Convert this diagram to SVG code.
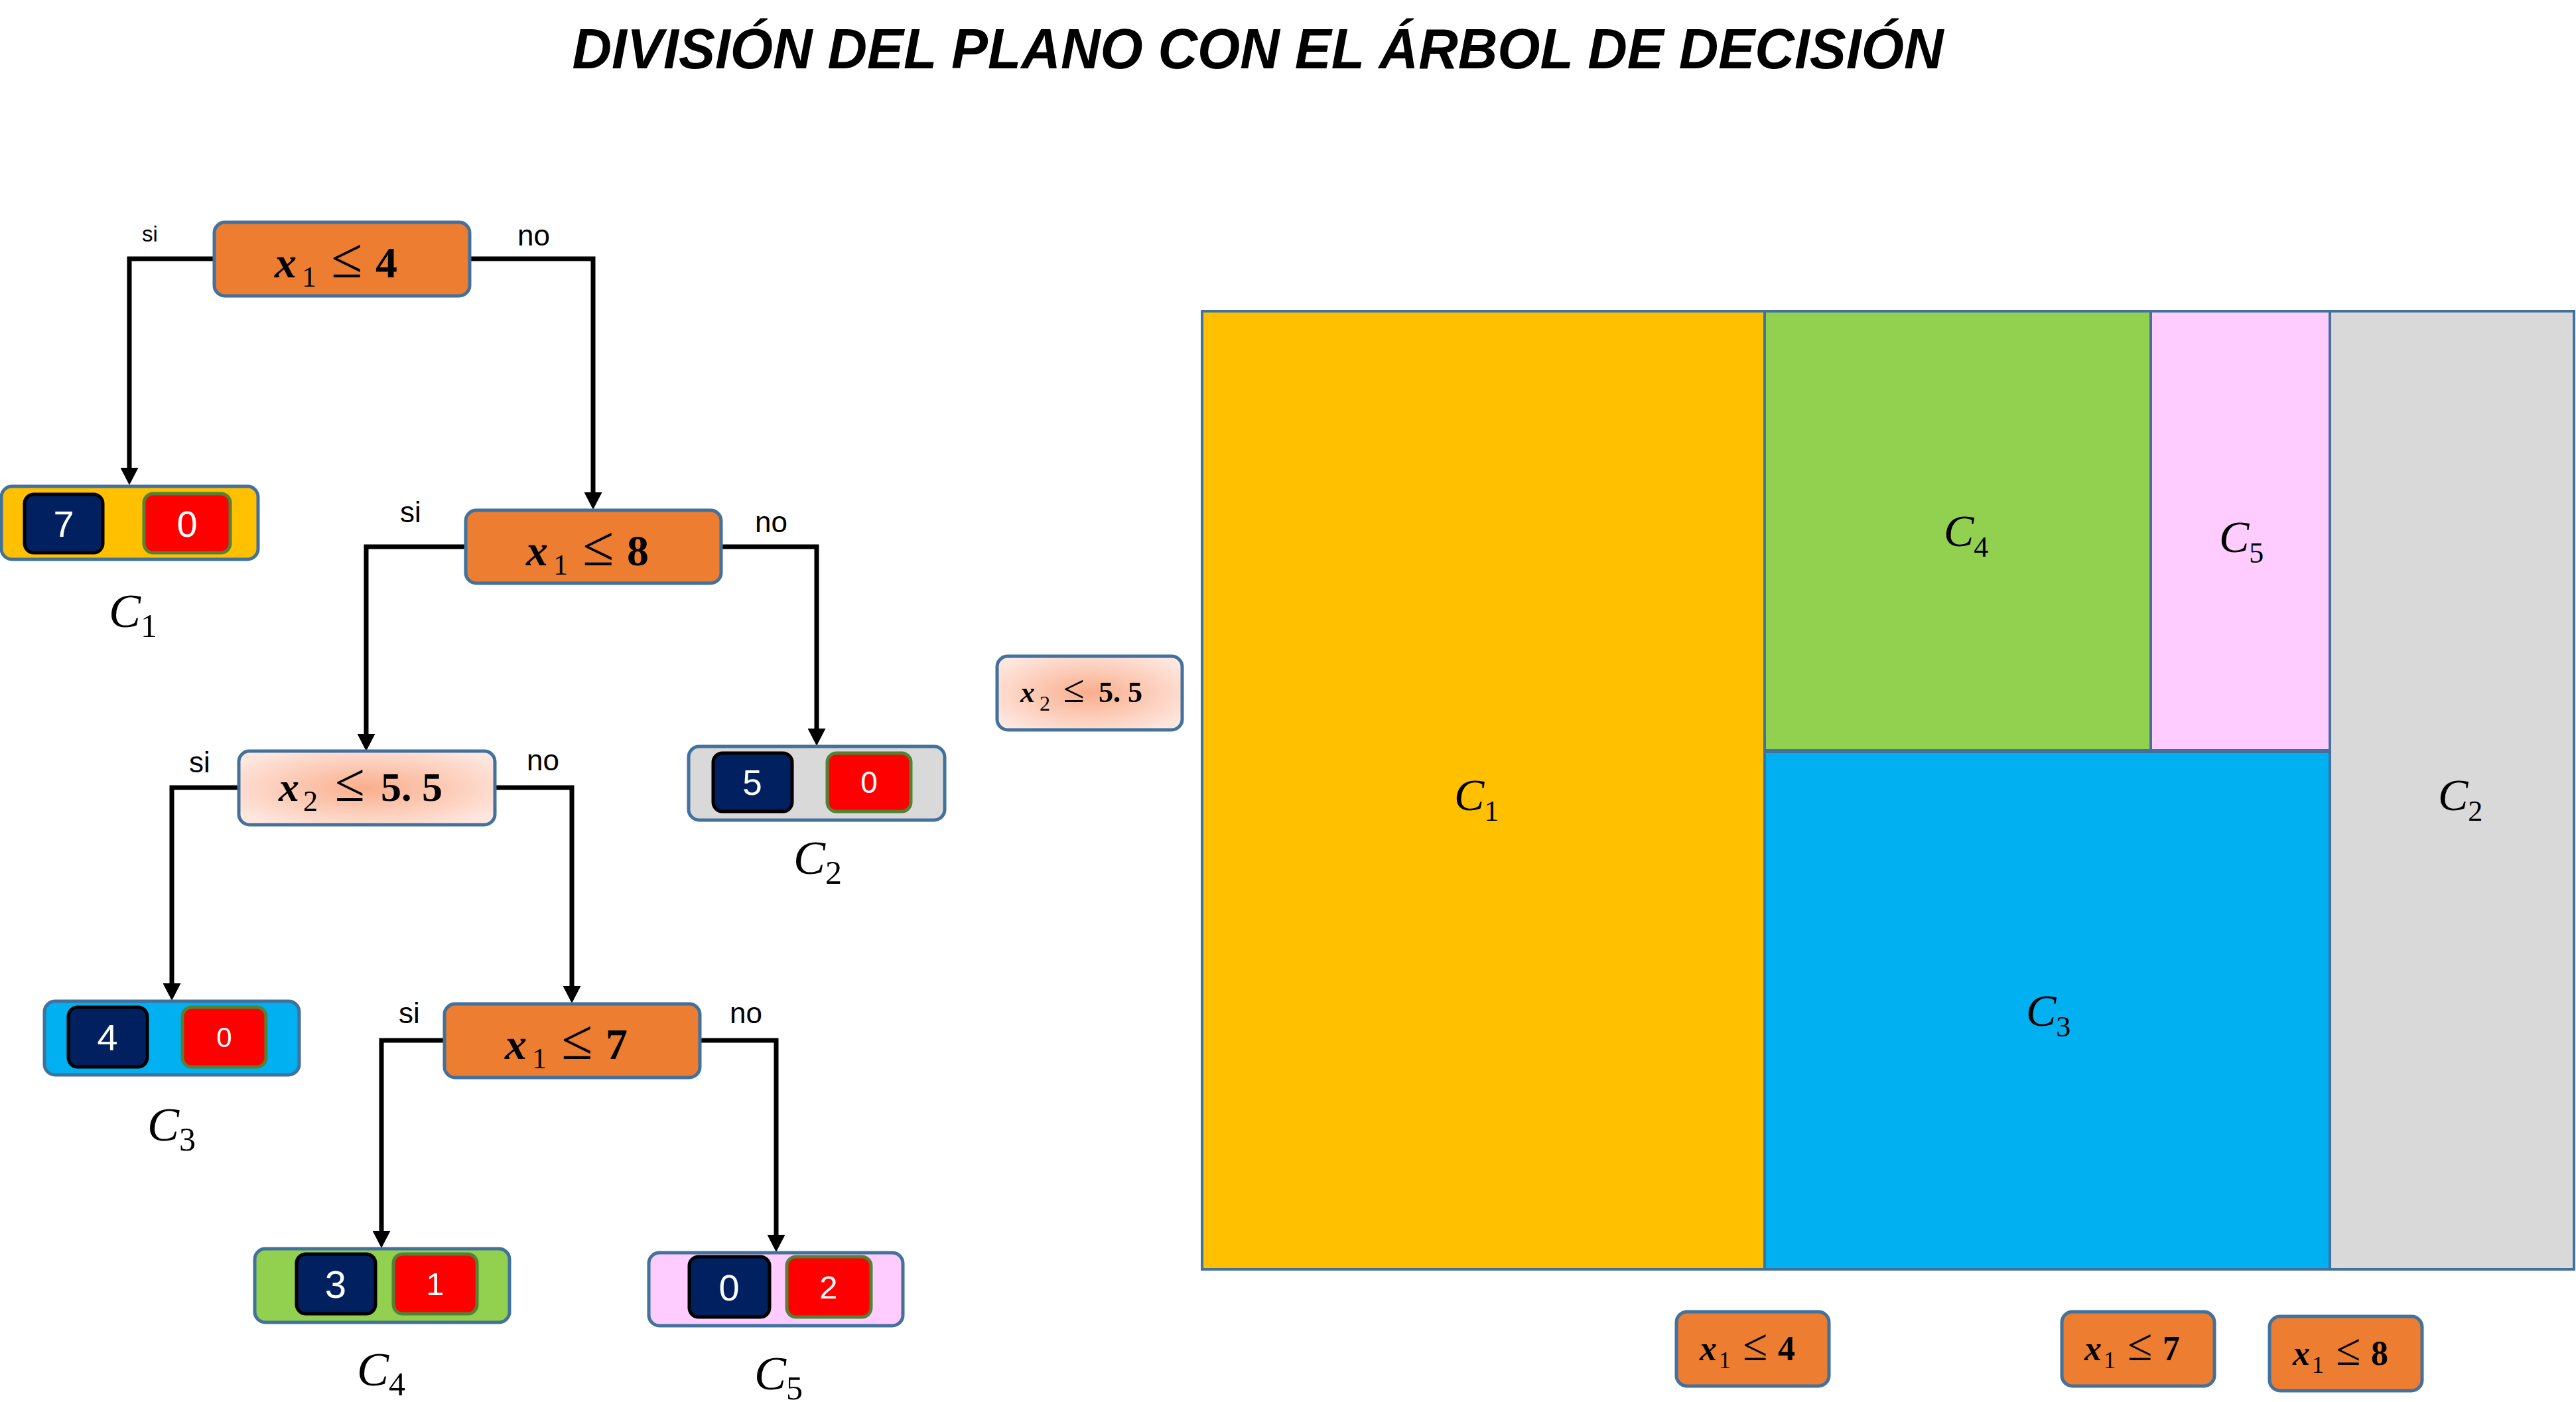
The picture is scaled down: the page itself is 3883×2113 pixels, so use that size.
<svg xmlns="http://www.w3.org/2000/svg" width="3883" height="2113" viewBox="0 0 3883 2113">
<style>
.title{font-family:"Liberation Sans",Arial,sans-serif;font-weight:bold;font-style:italic;font-size:85px;fill:#000}
.dec{fill:#ED7D31;stroke:#41719C;stroke-width:5}
.grad{fill:url(#pinkGrad);stroke:#41719C;stroke-width:5}
.leaf{stroke:#41719C;stroke-width:5}
.nv{fill:#002060;stroke:#000;stroke-width:5}
.rd{fill:#FF0000;stroke:#548235;stroke-width:5}
.num{font-family:"Liberation Sans",Arial,sans-serif;fill:#fff;text-anchor:middle}
.lbl{font-family:"Liberation Sans",Arial,sans-serif;font-size:44px;fill:#000}
.m{font-family:"Liberation Serif","Times New Roman",serif;fill:#000}
.v{font-style:italic;font-weight:bold}
.b{font-weight:bold}
.cl{font-family:"Liberation Serif","Times New Roman",serif;font-style:italic;fill:#000}
.cs{font-style:normal}
.conn{fill:none;stroke:#000;stroke-width:7}
.reg{stroke:#41719C;stroke-width:4}
</style>
<defs>
<marker id="arr" markerUnits="userSpaceOnUse" markerWidth="27" markerHeight="27" refX="6" refY="13.5" orient="auto" viewBox="0 0 27 27">
<path d="M0,0 L26,13.5 L0,27 z" fill="#000"/>
</marker>
<radialGradient id="pinkGrad" cx="0.5" cy="0.5" r="0.6">
<stop offset="0" stop-color="#F9AE8C"/>
<stop offset="1" stop-color="#FFE6DE"/>
</radialGradient>
</defs>
<rect width="3883" height="2113" fill="#fff"/>
<text class="title" x="1896" y="103" text-anchor="middle" textLength="2067" lengthAdjust="spacingAndGlyphs">DIVISIÓN DEL PLANO CON EL ÁRBOL DE DECISIÓN</text>
<g id="connectors">
<path class="conn" d="M322,390 H195 V711" marker-end="url(#arr)"/>
<path class="conn" d="M708,390 H894 V748" marker-end="url(#arr)"/>
<path class="conn" d="M701,824 H552 V1112" marker-end="url(#arr)"/>
<path class="conn" d="M1087,824 H1231 V1104" marker-end="url(#arr)"/>
<path class="conn" d="M359,1187 H259 V1488" marker-end="url(#arr)"/>
<path class="conn" d="M745,1187 H862 V1492" marker-end="url(#arr)"/>
<path class="conn" d="M669,1568 H575 V1861" marker-end="url(#arr)"/>
<path class="conn" d="M1054,1568 H1170 V1867" marker-end="url(#arr)"/>
<text class="lbl" x="214" y="364" style="font-size:33px">si</text>
<text class="lbl" x="780" y="370">no</text>
<text class="lbl" x="603" y="787">si</text>
<text class="lbl" x="1138" y="802">no</text>
<text class="lbl" x="285" y="1164">si</text>
<text class="lbl" x="794" y="1161">no</text>
<text class="lbl" x="601" y="1542">si</text>
<text class="lbl" x="1100" y="1542">no</text>
</g>
<g id="nodeA">
<rect class="dec" x="323" y="335" width="385" height="111" rx="16"/>
<text class="m" y="418" font-size="66"><tspan class="v" x="414">x</tspan><tspan x="455" y="432" font-size="44">1</tspan><tspan x="499" y="418" font-size="86">≤</tspan><tspan class="b" x="566">4</tspan></text>
</g>
<g id="nodeB">
<rect class="dec" x="702" y="769" width="385" height="110" rx="16"/>
<text class="m" y="852" font-size="66"><tspan class="v" x="793">x</tspan><tspan x="834" y="866" font-size="44">1</tspan><tspan x="878" y="852" font-size="86">≤</tspan><tspan class="b" x="945">8</tspan></text>
</g>
<g id="nodeD">
<rect class="grad" x="360" y="1132" width="386" height="111" rx="16"/>
<text class="m" y="1207" font-size="62"><tspan class="v" x="420">x</tspan><tspan x="457" y="1222" font-size="44">2</tspan><tspan x="505" y="1207" font-size="82">≤</tspan><tspan class="b" x="574">5. 5</tspan></text>
</g>
<g id="nodeE">
<rect class="dec" x="670" y="1513" width="385" height="111" rx="16"/>
<text class="m" y="1596" font-size="66"><tspan class="v" x="761">x</tspan><tspan x="802" y="1610" font-size="44">1</tspan><tspan x="846" y="1596" font-size="86">≤</tspan><tspan class="b" x="913">7</tspan></text>
</g>
<g id="leafC1">
<rect class="leaf" x="2" y="733" width="387" height="110" rx="16" fill="#FFC000"/>
<rect class="nv" x="37" y="745" width="118" height="88" rx="14"/>
<rect class="rd" x="217" y="744" width="130" height="89" rx="14"/>
<text class="num" x="96" y="809" font-size="56">7</text>
<text class="num" x="282" y="809" font-size="56">0</text>
<text class="cl" x="164" y="945" font-size="72">C<tspan class="cs" font-size="50" dy="15">1</tspan></text>
</g>
<g id="leafC2">
<rect class="leaf" x="1038" y="1125" width="386" height="111" rx="16" fill="#D9D9D9"/>
<rect class="nv" x="1075" y="1135" width="119" height="88" rx="14"/>
<rect class="rd" x="1247" y="1135" width="126" height="88" rx="14"/>
<text class="num" x="1134" y="1198" font-size="53">5</text>
<text class="num" x="1310" y="1195" font-size="46">0</text>
<text class="cl" x="1196" y="1317" font-size="72">C<tspan class="cs" font-size="50" dy="15">2</tspan></text>
</g>
<g id="leafC3">
<rect class="leaf" x="67" y="1509" width="384" height="111" rx="16" fill="#00B0F0"/>
<rect class="nv" x="103" y="1518" width="119" height="90" rx="14"/>
<rect class="rd" x="275" y="1518" width="126" height="90" rx="14"/>
<text class="num" x="162" y="1583" font-size="56">4</text>
<text class="num" x="338" y="1578" font-size="42">0</text>
<text class="cl" x="222" y="1719" font-size="72">C<tspan class="cs" font-size="50" dy="15">3</tspan></text>
</g>
<g id="leafC4">
<rect class="leaf" x="384" y="1882" width="384" height="111" rx="16" fill="#92D050"/>
<rect class="nv" x="447" y="1890" width="119" height="90" rx="14"/>
<rect class="rd" x="593" y="1890" width="126" height="90" rx="14"/>
<text class="num" x="506" y="1956" font-size="58">3</text>
<text class="num" x="656" y="1952" font-size="49">1</text>
<text class="cl" x="538" y="2088" font-size="72">C<tspan class="cs" font-size="50" dy="15">4</tspan></text>
</g>
<g id="leafC5">
<rect class="leaf" x="978" y="1888" width="383" height="110" rx="16" fill="#FFCCFF"/>
<rect class="nv" x="1039" y="1894" width="121" height="91" rx="14"/>
<rect class="rd" x="1186" y="1894" width="127" height="91" rx="14"/>
<text class="num" x="1099" y="1960" font-size="56">0</text>
<text class="num" x="1249" y="1957" font-size="49">2</text>
<text class="cl" x="1137" y="2094" font-size="72">C<tspan class="cs" font-size="50" dy="15">5</tspan></text>
</g>
<g id="plane">
<rect class="reg" x="1812" y="469" width="848" height="1444" fill="#FFC000"/>
<rect class="reg" x="3512" y="469" width="368" height="1444" fill="#D9D9D9"/>
<rect class="reg" x="2660" y="1133" width="852" height="780" fill="#00B0F0"/>
<rect class="reg" x="2660" y="469" width="582" height="662" fill="#92D050"/>
<rect class="reg" x="3242" y="469" width="270" height="662" fill="#FFCCFF"/>
<text class="cl" x="2192" y="1221" font-size="68">C<tspan class="cs" font-size="44" dy="16">1</tspan></text>
<text class="cl" x="2930" y="823" font-size="68">C<tspan class="cs" font-size="44" dy="16">4</tspan></text>
<text class="cl" x="3345" y="832" font-size="68">C<tspan class="cs" font-size="44" dy="16">5</tspan></text>
<text class="cl" x="3675" y="1221" font-size="68">C<tspan class="cs" font-size="44" dy="16">2</tspan></text>
<text class="cl" x="3054" y="1546" font-size="68">C<tspan class="cs" font-size="44" dy="16">3</tspan></text>
</g>
<g id="sideSplit">
<rect class="grad" x="1503" y="989" width="279" height="111" rx="16"/>
<text class="m" y="1058" font-size="44"><tspan class="v" x="1538">x</tspan><tspan x="1567" y="1071" font-size="32">2</tspan><tspan x="1603" y="1058" font-size="58">≤</tspan><tspan class="b" x="1656">5. 5</tspan></text>
</g>
<g id="splitX4">
<rect class="dec" x="2527" y="1977" width="230" height="112" rx="16"/>
<text class="m" y="2050" font-size="52"><tspan class="v" x="2562">x</tspan><tspan x="2591" y="2062" font-size="36">1</tspan><tspan x="2627" y="2050" font-size="68">≤</tspan><tspan class="b" x="2680">4</tspan></text>
</g>
<g id="splitX7">
<rect class="dec" x="3108" y="1977" width="230" height="112" rx="16"/>
<text class="m" y="2050" font-size="52"><tspan class="v" x="3142">x</tspan><tspan x="3171" y="2062" font-size="36">1</tspan><tspan x="3207" y="2050" font-size="68">≤</tspan><tspan class="b" x="3260">7</tspan></text>
</g>
<g id="splitX8">
<rect class="dec" x="3421" y="1984" width="230" height="112" rx="16"/>
<text class="m" y="2057" font-size="52"><tspan class="v" x="3456">x</tspan><tspan x="3485" y="2069" font-size="36">1</tspan><tspan x="3521" y="2057" font-size="68">≤</tspan><tspan class="b" x="3574">8</tspan></text>
</g>
</svg>
